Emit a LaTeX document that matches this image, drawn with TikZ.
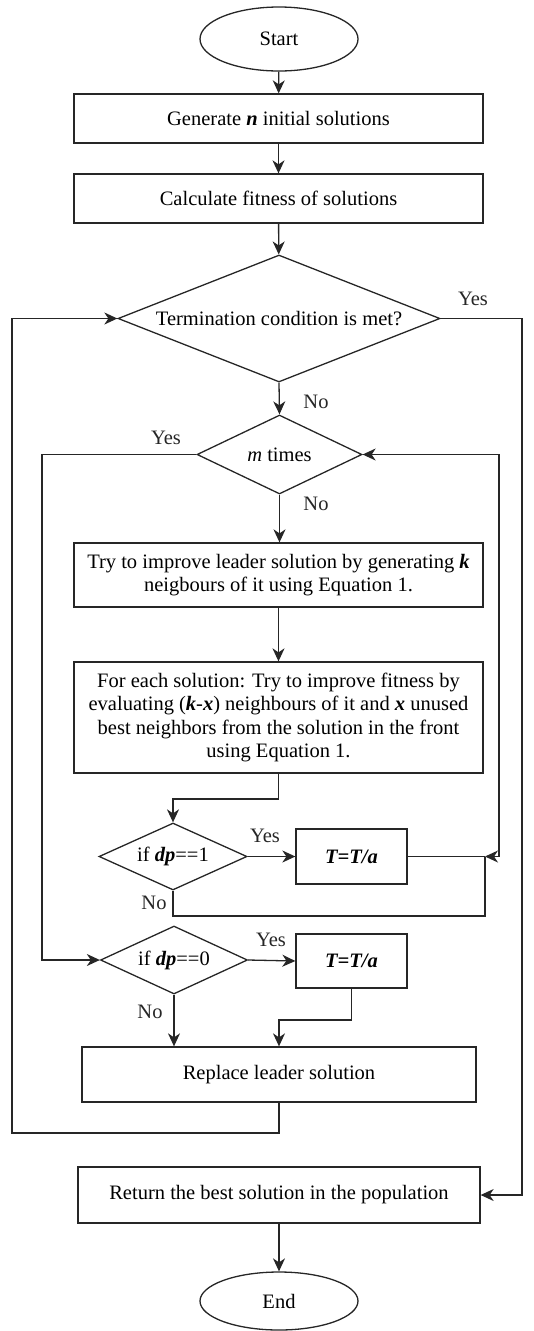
\documentclass[tikz,border=0pt]{standalone}
\usepackage{fontspec}
\setmainfont{Liberation Serif}
\usetikzlibrary{shapes.geometric,arrows.meta}
\tikzset{
  base/.style={draw=black!85, line width=1.3pt, font=\fontsize{20.5}{23.5}\selectfont, inner sep=0pt, align=center},
  procbox/.style={base, rectangle},
  termin/.style={base, ellipse},
  decide/.style={base, diamond},
  conn/.style={line width=1.3pt, draw=black!85},
  tip/.tip={Stealth[length=13pt,width=12pt,inset=4pt]},
  arr/.style={conn, -tip},
  lbl/.style={font=\fontsize{20.5}{23.5}\selectfont, inner sep=0pt, text=black!85}
}
\newcommand{\bi}[1]{\textbf{\textit{#1}}}
\begin{document}
\begin{tikzpicture}[x=1pt,y=-1pt]
\useasboundingbox (0,0) rectangle (533,1331);
\node[termin, minimum width=158pt, minimum height=64pt] (start) at (279,39) {Start};
\node[procbox, minimum width=409pt, minimum height=49pt] (gen) at (278.5,118.5) {Generate \bi{n} initial solutions};
\node[procbox, minimum width=409pt, minimum height=49pt] (calc) at (278.5,198.5) {Calculate fitness of solutions};
\node[decide, aspect=2.54, minimum width=322pt, minimum height=127pt] (term) at (279,318.5) {Termination condition is met?};
\node[decide, aspect=2.09, minimum width=165pt, minimum height=79pt] (mt) at (279.5,454.5) {\textit{m} times};
\node[procbox, minimum width=409pt, minimum height=64pt] (try) at (278.5,575) {Try to improve leader solution by generating \bi{k}\\neigbours of it using Equation 1.};
\node[procbox, minimum width=409pt, minimum height=111pt] (each) at (278.5,717.5) {For each solution: Try to improve fitness by\\evaluating (\bi{k}-\bi{x}) neighbours of it and \bi{x} unused\\best neighbors from the solution in the front\\using Equation 1.};
\node[decide, aspect=2.2, minimum width=148pt, minimum height=67pt] (dp1) at (173,856.5) {if \bi{dp}==1};
\node[procbox, minimum width=111pt, minimum height=55pt] (t1) at (351.5,856.5) {\bi{T=T/a}};
\node[decide, aspect=2.16, minimum width=147pt, minimum height=68pt] (dp0) at (174,960) {if \bi{dp}==0};
\node[procbox, minimum width=111pt, minimum height=54pt] (t2) at (351.5,961) {\bi{T=T/a}};
\node[procbox, minimum width=394pt, minimum height=55pt] (rep) at (279,1074.5) {Replace leader solution};
\node[procbox, minimum width=402pt, minimum height=56pt] (ret) at (279,1195) {Return the best solution in the population};
\node[termin, minimum width=158pt, minimum height=58pt] (end) at (279,1301) {End};

\coordinate (J) at (485,856.5);
\coordinate (Jb) at (485,916);
\coordinate (R) at (499,856.5);
\coordinate (L) at (12,1133);
\coordinate (K2) at (351.5,1020);
\coordinate (E1) at (278.5,799);
\coordinate (RT) at (522,318.5);
\coordinate (LM) at (42,454.5);

\draw[arr] (start) -- (gen);
\draw[arr] (gen) -- (calc);
\draw[arr] (calc) -- (term);
\draw[arr] (term.south) -- (mt.north);
\draw[arr] (mt.south) -- (mt.south |- try.north);
\draw[arr] (try.south) -- (each.north);
\draw[arr] (each.south) -- (E1) -| (dp1.north);
\draw[arr] (dp1.east) -- (t1.west);
\draw[conn] (t1.east) -- (J);
\draw[conn] (dp1.south) |- (Jb) -- (J);
\draw[conn, tip-tip] (J) -- (R) |- (mt.east);
\draw[arr] (mt.west) -- (LM) |- (dp0.west);
\draw[arr] (dp0.east) -- (t2.west);
\draw[arr] (t2.south) -- (K2) -| (rep.north);
\draw[arr] (dp0.south) -- (dp0.south |- rep.north);
\draw[arr] (rep.south) |- (L) |- (term.west);
\draw[arr] (term.east) -- (RT) |- (ret.east);
\draw[arr] (ret.south) -- (end.north);

\node[lbl] (y1) at (473,299) {Yes};
\node[lbl] (n1) at (316,402) {No};
\node[lbl] (y2) at (166,438) {Yes};
\node[lbl] (n2) at (316,504) {No};
\node[lbl] (y3) at (265,836) {Yes};
\node[lbl] (n3) at (154,903) {No};
\node[lbl] (y4) at (271,940) {Yes};
\node[lbl] (n4) at (150,1012) {No};
\end{tikzpicture}
\end{document}
